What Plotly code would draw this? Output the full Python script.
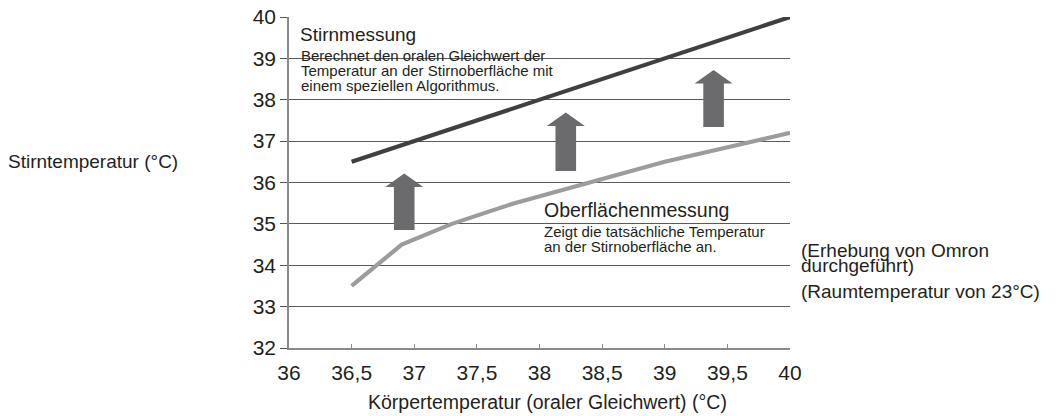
import plotly.graph_objects as go

# ---------------- data ----------------
forehead_x = [36.5, 40.0]          # Stirnmessung (oraler Gleichwert)
forehead_y = [36.5, 40.0]
surface_x = [36.5, 36.9, 37.3, 37.8, 39.0, 40.0]   # Oberflächenmessung
surface_y = [33.5, 34.5, 35.0, 35.5, 36.5, 37.2]

arrow_x = [36.92, 38.21, 39.39]
arrow_from = [34.85, 36.28, 37.34]
arrow_to = [36.22, 37.69, 38.72]

x_ticks = [36, 36.5, 37, 37.5, 38, 38.5, 39, 39.5, 40]
x_tick_labels = ["36", "36,5", "37", "37,5", "38", "38,5", "39", "39,5", "40"]
y_ticks = [32, 33, 34, 35, 36, 37, 38, 39, 40]
y_tick_labels = ["32", "33", "34", "35", "36", "37", "38", "39", "40"]

# ---------------- layout geometry ----------------
W, H = 1056, 416
ML, MR, MT, MB = 289, 266, 17, 68
PW, PH = W - ML - MR, H - MT - MB
XR, YR = (36, 40), (32, 40)
XS = PW / (XR[1] - XR[0])   # px per x unit
YS = PH / (YR[1] - YR[0])   # px per y unit


def px(x):
    return (x - ML) / PW


def py(y):
    return (H - MB - y) / PH


FONT = "Liberation Sans, Arial, Helvetica, sans-serif"
TXT = "#231f20"

fig = go.Figure()
fig.add_trace(go.Scatter(x=forehead_x, y=forehead_y, mode="lines",
                         line=dict(color="#404040", width=4.2),
                         hoverinfo="skip", showlegend=False))
fig.add_trace(go.Scatter(x=surface_x, y=surface_y, mode="lines",
                         line=dict(color="#9c9c9c", width=4.2),
                         hoverinfo="skip", showlegend=False))

shapes = []
# white boxes behind the text blocks (cover gridlines)
shapes.append(dict(type="rect", xref="paper", yref="paper", layer="between",
                   x0=px(296), x1=px(583), y0=py(95), y1=py(24),
                   fillcolor="white", line=dict(width=0)))
shapes.append(dict(type="rect", xref="paper", yref="paper", layer="between",
                   x0=px(535), x1=px(790), y0=py(256), y1=py(200),
                   fillcolor="white", line=dict(width=0)))

# block arrows
sw = 10.3 / XS
hw = 19.0 / XS
hh = 13.5 / YS
for x, y0, y1 in zip(arrow_x, arrow_from, arrow_to):
    path = (f"M {x-sw},{y0} L {x+sw},{y0} L {x+sw},{y1-hh} L {x+hw},{y1-hh} "
            f"L {x},{y1} L {x-hw},{y1-hh} L {x-sw},{y1-hh} Z")
    shapes.append(dict(type="path", xref="x", yref="y", path=path,
                       fillcolor="#6b6b6e", line=dict(width=0), layer="above"))

annotations = []


def txt(text, x, y, size, xanchor="left"):
    annotations.append(dict(text=text, xref="paper", yref="paper",
                            x=px(x), y=py(y), xanchor=xanchor, yanchor="middle",
                            showarrow=False, font=dict(family=FONT, size=size, color=TXT)))


txt("Stirnmessung", 298, 34, 19)
txt("Berechnet den oralen Gleichwert der", 299, 55.3, 15)
txt("Temperatur an der Stirnoberfläche mit", 299, 70.5, 15)
txt("einem speziellen Algorithmus.", 299, 85.5, 15)

txt("Oberflächenmessung", 542, 210, 19.5)
txt("Zeigt die tatsächliche Temperatur", 542, 231.5, 15)
txt("an der Stirnoberfläche an.", 542, 246.5, 15)

txt("(Erhebung von Omron", 799, 250, 19)
txt("durchgeführt)", 799, 265, 19)
txt("(Raumtemperatur von 23°C)", 799, 291.5, 19)

txt("Stirntemperatur (°C)", 6, 161, 19)
txt("Körpertemperatur (oraler Gleichwert) (°C)", 547, 402, 19.5, xanchor="center")

fig.update_layout(
    width=W, height=H,
    margin=dict(l=ML, r=MR, t=MT, b=MB, pad=0, autoexpand=False),
    paper_bgcolor="white", plot_bgcolor="white",
    shapes=shapes, annotations=annotations,
    font=dict(family=FONT, color=TXT),
    xaxis=dict(range=list(XR), tickvals=x_ticks, ticktext=x_tick_labels,
               showgrid=False, zeroline=False, showline=True,
               linecolor="#8a8a8a", linewidth=1.5,
               ticks="inside", ticklen=4, tickcolor="#8a8a8a", tickwidth=1,
               tickfont=dict(size=21, color=TXT), ticklabelstandoff=5),
    yaxis=dict(range=list(YR), tickvals=y_ticks, ticktext=y_tick_labels,
               showgrid=True, gridcolor="#5a5a5a", gridwidth=1,
               zeroline=False, showline=True,
               linecolor="#8a8a8a", linewidth=1.5,
               ticks="outside", ticklen=7, tickcolor="#555555", tickwidth=1,
               tickfont=dict(size=21, color=TXT)),
)

fig.write_html("out.html", config={"displayModeBar": False},
               post_script="document.body.style.margin='0';")
